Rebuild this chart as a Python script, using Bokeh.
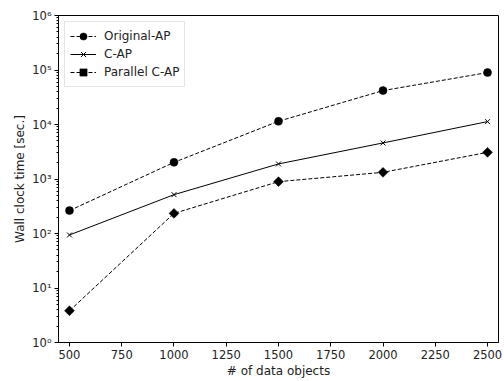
import math
from bokeh.plotting import figure
from bokeh.models import LogTicker, Legend, LegendItem, Range1d, FixedTicker
from bokeh.embed import file_html
from bokeh.resources import INLINE

n_objects = [500, 1000, 1500, 2000, 2500]
original_ap = [263, 2020, 11450, 41900, 89800]
c_ap = [94, 516, 1890, 4590, 11300]
parallel_c_ap = [3.82, 234, 894, 1325, 3085]
x_ticks = [500, 750, 1000, 1250, 1500, 1750, 2000, 2250, 2500]
y_ticks = [1, 10, 100, 1000, 10000, 100000, 1000000]
y_tick_labels = ["10⁰", "10¹", "10²", "10³", "10⁴", "10⁵", "10⁶"]

FONT = "DejaVu Sans"

p = figure(width=504, height=381, y_axis_type="log", output_backend="svg",
           toolbar_location=None, x_range=Range1d(447.5, 2552.5),
           y_range=Range1d(1, 1e6))
p.min_border_left = 58
p.min_border_right = 6
p.min_border_top = 15
p.min_border_bottom = 39
p.xgrid.visible = False
p.ygrid.visible = False
p.outline_line_color = "black"
p.outline_line_width = 1
p.background_fill_color = "white"
p.border_fill_color = "white"

r1l = p.line(n_objects, original_ap, line_color="black", line_dash="4 2", line_width=1)
r1m = p.scatter(n_objects, original_ap, marker="circle", size=8, color="black", line_width=0.5)
r2l = p.line(n_objects, c_ap, line_color="black", line_width=1)
r2m = p.scatter(n_objects, c_ap, marker="x", size=7, line_color="black", line_width=1)
r3l = p.line(n_objects, parallel_c_ap, line_color="black", line_dash="4 2", line_width=1)
r3m = p.scatter(x=n_objects, y=parallel_c_ap, marker="square", size=7,
                angle=math.pi / 4, color="black", line_width=0.5)

legend = Legend(items=[
    LegendItem(label="Original-AP", renderers=[r1l, r1m]),
    LegendItem(label="C-AP", renderers=[r2l, r2m]),
    LegendItem(label="Parallel C-AP", renderers=[r3l, r3m]),
], location="top_left")
legend.margin = 6
legend.padding = 5
legend.spacing = 0
legend.label_height = 18
legend.glyph_height = 18
legend.glyph_width = 26
legend.label_standoff = 8
legend.label_text_font = FONT
legend.label_text_font_size = "12px"
legend.label_text_color = "#222222"
legend.border_line_color = "#cccccc"
legend.border_line_width = 1
legend.background_fill_alpha = 0.9
p.add_layout(legend, "center")

for ax in (p.xaxis, p.yaxis):
    ax.axis_line_color = "black"
    ax.major_tick_line_color = "black"
    ax.minor_tick_line_color = "black"
    ax.major_tick_in = 0
    ax.major_tick_out = 4
    ax.major_label_text_font = FONT
    ax.major_label_text_font_size = "11.5px"
    ax.major_label_text_color = "#222222"
    ax.axis_label_text_font = FONT
    ax.axis_label_text_font_size = "12px"
    ax.axis_label_text_font_style = "normal"
    ax.axis_label_text_color = "#222222"

p.xaxis.ticker = FixedTicker(ticks=x_ticks)
p.xaxis.minor_tick_line_color = None
p.xaxis.axis_label = "# of data objects"
p.xaxis.axis_label_standoff = 2
p.xaxis.major_label_standoff = 3

p.yaxis.ticker = LogTicker(num_minor_ticks=10)
p.yaxis.ticker.desired_num_ticks = 7
p.yaxis.major_label_overrides = {float(t): l for t, l in zip(y_ticks, y_tick_labels)}
p.yaxis.major_label_overrides.update({t: l for t, l in zip(y_ticks, y_tick_labels)})
p.yaxis.minor_tick_in = 0
p.yaxis.minor_tick_out = 2
p.yaxis.axis_label = "Wall clock time [sec.]"
p.yaxis.axis_label_standoff = 2
p.yaxis.major_label_standoff = 3

open("out.html", "w").write(file_html(p, INLINE))
